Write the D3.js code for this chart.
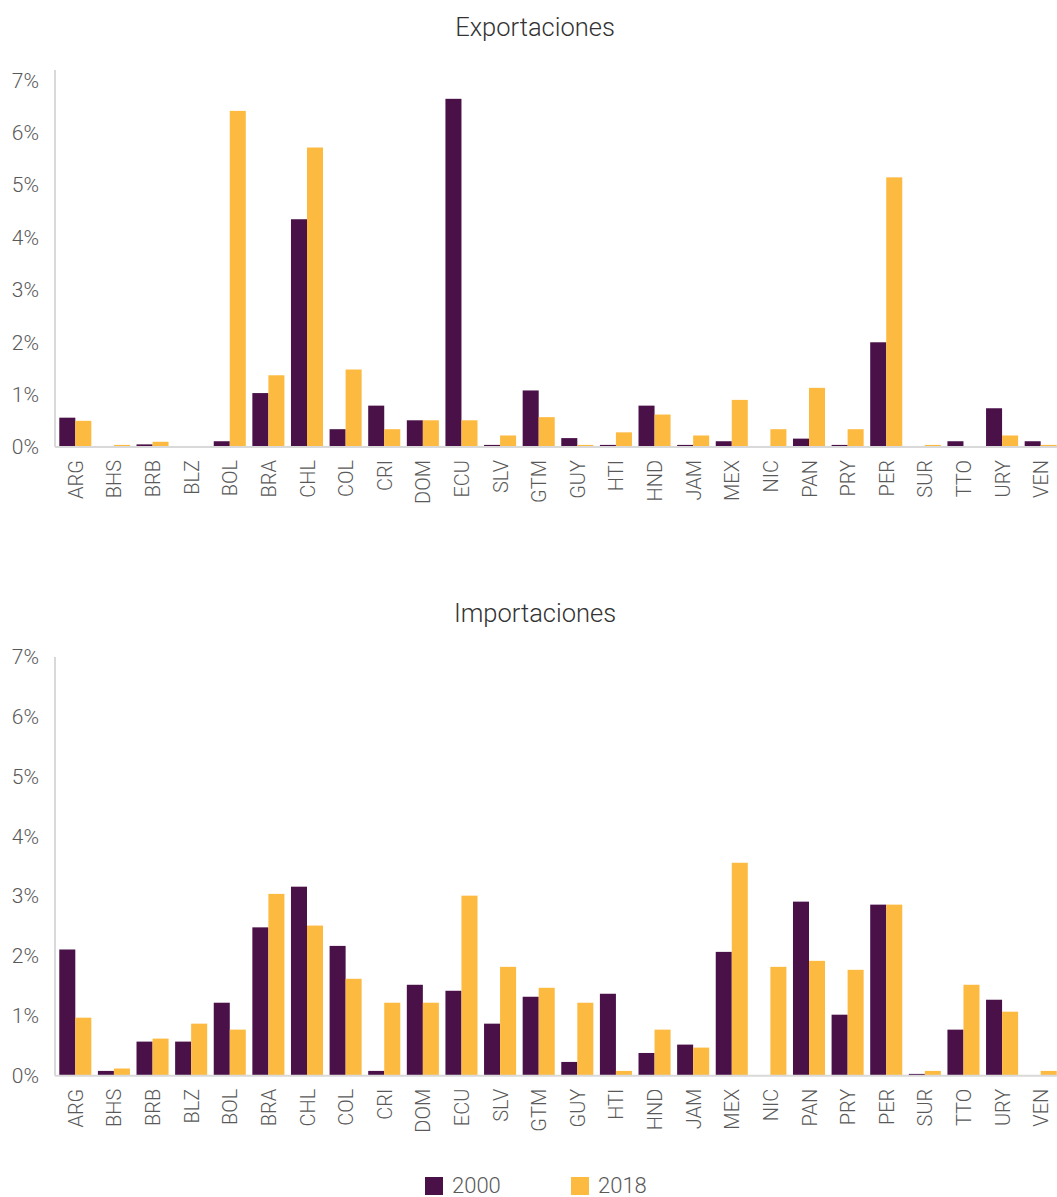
<!DOCTYPE html>
<html><head><meta charset="utf-8">
<script src="https://cdn.jsdelivr.net/npm/d3@7"></script>
<style>
body{margin:0;background:#fff;}
text{font-family:Roboto,"Noto Sans",sans-serif;font-weight:300;}
</style></head>
<body>
<svg id="c" width="1057" height="1197"></svg>
<script>
const countries = ["ARG","BHS","BRB","BLZ","BOL","BRA","CHL","COL","CRI","DOM","ECU","SLV","GTM","GUY","HTI","HND","JAM","MEX","NIC","PAN","PRY","PER","SUR","TTO","URY","VEN"];
const years = ["2000","2018"];
const exp2000 = [0.56,0,0.05,0,0.11,1.03,4.35,0.34,0.79,0.51,6.65,0.04,1.08,0.17,0.04,0.79,0.04,0.11,0,0.16,0.04,2.00,0,0.11,0.74,0.11];
const exp2018 = [0.50,0.04,0.10,0,6.42,1.37,5.72,1.48,0.34,0.51,0.51,0.22,0.57,0.04,0.28,0.62,0.22,0.90,0.34,1.13,0.34,5.15,0.04,0,0.22,0.04];
const imp2000 = [2.11,0.08,0.57,0.57,1.22,2.48,3.16,2.17,0.08,1.52,1.42,0.87,1.32,0.23,1.37,0.38,0.52,2.07,0,2.91,1.02,2.86,0.03,0.77,1.27,0];
const imp2018 = [0.97,0.12,0.62,0.87,0.77,3.04,2.51,1.62,1.22,1.22,3.01,1.82,1.47,1.22,0.08,0.77,0.47,3.56,1.82,1.92,1.77,2.86,0.08,1.52,1.07,0.08];
const yTicks = [0,1,2,3,4,5,6,7];
const titles = ["Exportaciones","Importaciones"];
const colors = {"2000":"#4a1048","2018":"#fdba40"};

const svg = d3.select("#c");
const x = d3.scaleBand().domain(countries).range([56, 1060]).paddingInner(0.17).paddingOuter(0.085);
const xs = d3.scaleBand().domain(years).range([0, x.bandwidth()]);

const panels = [
  {title:titles[0], s:[exp2000,exp2018], y0:447, y7:80.5, axisTop:70, titleY:36},
  {title:titles[1], s:[imp2000,imp2018], y0:1075.7, y7:657, axisTop:657, titleY:622}
];

panels.forEach(p=>{
  const y = d3.scaleLinear().domain([0,7]).range([p.y0, p.y7]);
  const g = svg.append("g");
  g.append("text").attr("x",535).attr("y",p.titleY).attr("text-anchor","middle")
    .attr("font-size",25.5).attr("fill","#333").text(p.title);
  const ya = g.append("g").attr("transform","translate(55,0)")
    .call(d3.axisLeft(y).tickValues(yTicks).tickFormat(d=>d+"%").tickSize(0).tickPadding(16));
  ya.select(".domain").remove();
  ya.selectAll("text").attr("font-size",21).attr("fill","#595959").style("font-family","Roboto").style("font-weight",300);
  g.append("line").attr("x1",55).attr("x2",55).attr("y1",p.axisTop).attr("y2",p.y0)
    .attr("stroke","#d9d9d9").attr("stroke-width",2);
  const data = countries.map((c,i)=>({c, v:[p.s[0][i],p.s[1][i]]}));
  const grp = g.selectAll(".grp").data(data).join("g").attr("transform",d=>`translate(${x(d.c)},0)`);
  grp.selectAll("rect").data(d=>years.map((yr,k)=>({yr,v:d.v[k]}))).join("rect")
    .attr("x",d=>xs(d.yr)).attr("width",xs.bandwidth())
    .attr("y",d=>y(d.v)).attr("height",d=>y(0)-y(d.v))
    .attr("fill",d=>colors[d.yr]);
  g.append("line").attr("x1",55).attr("x2",1057).attr("y1",p.y0).attr("y2",p.y0)
    .attr("stroke","#d9d9d9").attr("stroke-width",2);
  const xa = g.append("g").attr("transform",`translate(0,${p.y0})`)
    .call(d3.axisBottom(x).tickSize(0).tickPadding(0));
  xa.select(".domain").remove();
  xa.selectAll("text").attr("font-size",20).attr("fill","#595959")
    .style("font-family","Roboto").style("font-weight",300)
    .attr("text-anchor","end").attr("dy",null).attr("y",0)
    .attr("transform","translate(7.5,13) rotate(-90)");
});

const lg = svg.append("g");
years.forEach((yr,i)=>{
  const lx = 425 + i*146;
  lg.append("rect").attr("x",lx).attr("y",1177).attr("width",18).attr("height",18).attr("fill",colors[yr]);
  lg.append("text").attr("x",lx+27).attr("y",1193).attr("font-size",22).attr("fill","#595959").text(yr);
});
</script>
</body></html>
